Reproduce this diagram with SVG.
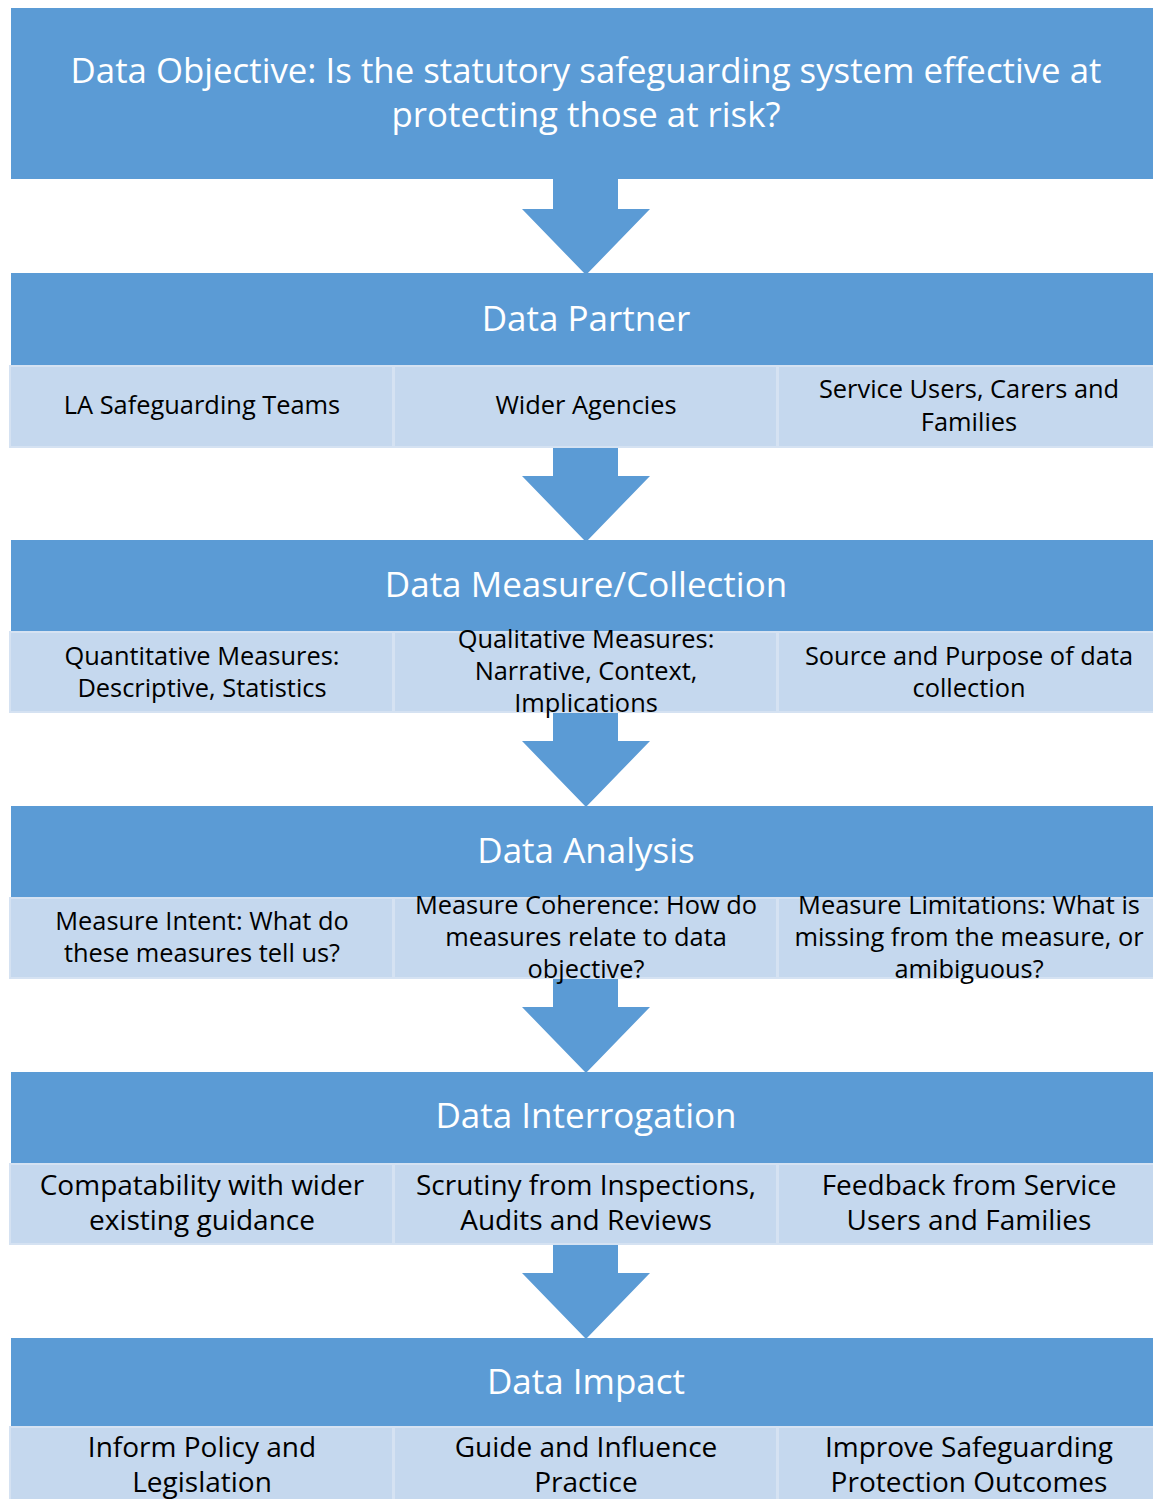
<svg xmlns="http://www.w3.org/2000/svg" width="1153" height="1499" viewBox="0 0 1153 1499">
<defs>
<style>
.hdr{fill:#5B9BD5}
.sub{fill:#C5D8EE;stroke:#D5E2F2;stroke-width:2}
.arr{fill:#5B9BD5}
.ht{font-family:"Open Sans","Noto Sans",sans-serif;fill:#FFFFFF;text-anchor:middle}
.st{font-family:"Open Sans","Noto Sans",sans-serif;fill:#000000;text-anchor:middle}
.t1{font-size:34.8px}
.h{font-size:35px}
.s{font-size:25.4px}
.s2{font-size:28px}
</style>
</defs>
<rect width="1153" height="1499" fill="#FFFFFF"/>
<g id="connectors">
<polygon class="arr" points="553,179 618,179 618,209 650,209 586,275 522,209 553,209"/>
<polygon class="arr" points="553,448 618,448 618,476 650,476 586,542 522,476 553,476"/>
<polygon class="arr" points="553,713 618,713 618,741 650,741 586,807 522,741 553,741"/>
<polygon class="arr" points="553,979 618,979 618,1007 650,1007 586,1073 522,1007 553,1007"/>
<polygon class="arr" points="553,1245 618,1245 618,1273 650,1273 586,1339 522,1273 553,1273"/>
</g>
<g id="objective">
<rect class="hdr" x="11" y="8" width="1142" height="171"/>
<text class="ht t1"><tspan x="586" y="83">Data Objective: Is the statutory safeguarding system effective at</tspan><tspan x="586" y="127">protecting those at risk?</tspan></text>
</g>
<g id="partner">
<rect class="hdr" x="11" y="273" width="1142" height="92"/>
<text class="ht h" x="586" y="331">Data Partner</text>
<rect class="sub" x="10" y="366" width="383" height="81"/>
<rect class="sub" x="394" y="366" width="383" height="81"/>
<rect class="sub" x="778" y="366" width="376" height="81"/>
<text class="st s" x="202" y="414">LA Safeguarding Teams</text>
<text class="st s" x="586" y="414">Wider Agencies</text>
<text class="st s"><tspan x="969" y="398">Service Users, Carers and</tspan><tspan x="969" y="431">Families</tspan></text>
</g>
<g id="measure">
<rect class="hdr" x="11" y="540" width="1142" height="91"/>
<text class="ht h" x="586" y="597">Data Measure/Collection</text>
<rect class="sub" x="10" y="632" width="383" height="80"/>
<rect class="sub" x="394" y="632" width="383" height="80"/>
<rect class="sub" x="778" y="632" width="376" height="80"/>
<text class="st s"><tspan x="202" y="665">Quantitative Measures:</tspan><tspan x="202" y="697">Descriptive, Statistics</tspan></text>
<text class="st s"><tspan x="586" y="648">Qualitative Measures:</tspan><tspan x="586" y="680">Narrative, Context,</tspan><tspan x="586" y="712">Implications</tspan></text>
<text class="st s"><tspan x="969" y="665">Source and Purpose of data</tspan><tspan x="969" y="697">collection</tspan></text>
</g>
<g id="analysis">
<rect class="hdr" x="11" y="806" width="1142" height="91"/>
<text class="ht h" x="586" y="863">Data Analysis</text>
<rect class="sub" x="10" y="898" width="383" height="80"/>
<rect class="sub" x="394" y="898" width="383" height="80"/>
<rect class="sub" x="778" y="898" width="376" height="80"/>
<text class="st s"><tspan x="202" y="930">Measure Intent: What do</tspan><tspan x="202" y="962">these measures tell us?</tspan></text>
<text class="st s"><tspan x="586" y="914">Measure Coherence: How do</tspan><tspan x="586" y="946">measures relate to data</tspan><tspan x="586" y="978">objective?</tspan></text>
<text class="st s"><tspan x="969" y="914">Measure Limitations: What is</tspan><tspan x="969" y="946">missing from the measure, or</tspan><tspan x="969" y="978">amibiguous?</tspan></text>
</g>
<g id="interrogation">
<rect class="hdr" x="11" y="1072" width="1142" height="91"/>
<text class="ht h" x="586" y="1128">Data Interrogation</text>
<rect class="sub" x="10" y="1164" width="383" height="80"/>
<rect class="sub" x="394" y="1164" width="383" height="80"/>
<rect class="sub" x="778" y="1164" width="376" height="80"/>
<text class="st s2"><tspan x="202" y="1195">Compatability with wider</tspan><tspan x="202" y="1230">existing guidance</tspan></text>
<text class="st s2"><tspan x="586" y="1195">Scrutiny from Inspections,</tspan><tspan x="586" y="1230">Audits and Reviews</tspan></text>
<text class="st s2"><tspan x="969" y="1195">Feedback from Service</tspan><tspan x="969" y="1230">Users and Families</tspan></text>
</g>
<g id="impact">
<rect class="hdr" x="11" y="1338" width="1142" height="88"/>
<text class="ht h" x="586" y="1394">Data Impact</text>
<rect class="sub" x="10" y="1427" width="383" height="80"/>
<rect class="sub" x="394" y="1427" width="383" height="80"/>
<rect class="sub" x="778" y="1427" width="376" height="80"/>
<text class="st s2"><tspan x="202" y="1457">Inform Policy and</tspan><tspan x="202" y="1492">Legislation</tspan></text>
<text class="st s2"><tspan x="586" y="1457">Guide and Influence</tspan><tspan x="586" y="1492">Practice</tspan></text>
<text class="st s2"><tspan x="969" y="1457">Improve Safeguarding</tspan><tspan x="969" y="1492">Protection Outcomes</tspan></text>
</g>
</svg>
